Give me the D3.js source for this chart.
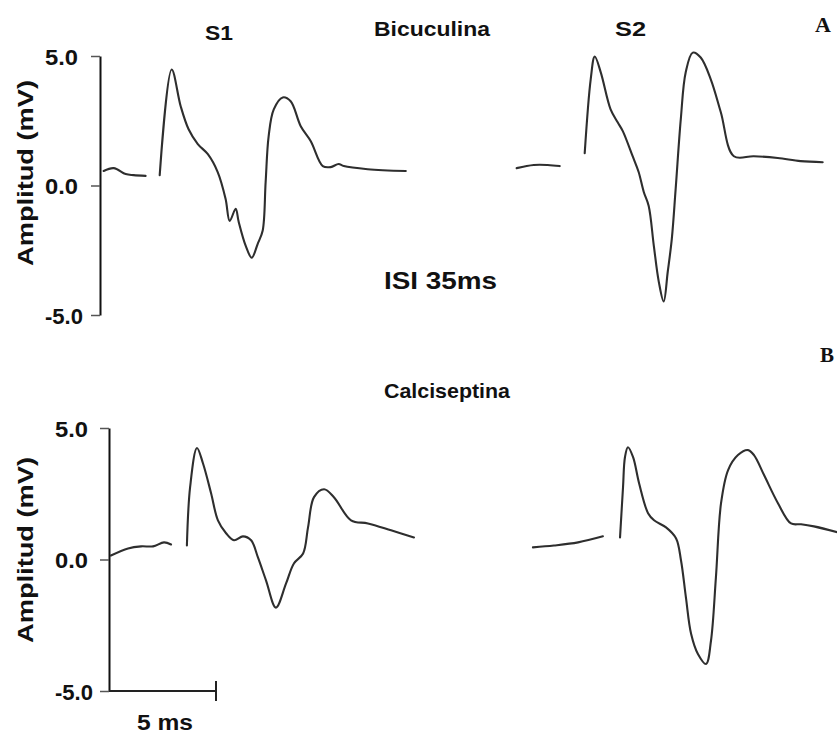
<!DOCTYPE html>
<html>
<head>
<meta charset="utf-8">
<script src="https://cdn.jsdelivr.net/npm/d3@7/dist/d3.min.js"></script>
<style>
  html, body { margin: 0; padding: 0; background: #ffffff; }
  svg { display: block; }
  text { font-family: "Liberation Sans", Arial, sans-serif; font-weight: bold; fill: #111; }
  .serif { font-family: "Liberation Serif", "Times New Roman", serif; }
</style>
</head>
<body>
<script>
// ---- data (time in ms from the axis, amplitude in mV) ----
const yTicks = [-5, 0, 5];
const scaleBarMs = 5;

// Panel A: Bicuculina
const bicS1Pre = [[0.17,0.56],[0.64,0.67],[1.20,0.44],[1.57,0.40],[2.13,0.37]];
const bicS1 = [[2.79,0.40],[3.35,4.48],[3.77,3.06],[4.14,2.17],[4.57,1.60],[5.04,1.21],[5.50,0.52],
  [5.87,-0.52],[6.06,-1.37],[6.34,-0.90],[6.48,-1.40],[6.81,-2.33],[7.09,-2.79],[7.37,-2.25],
  [7.60,-1.75],[7.74,0.13],[7.88,1.90],[8.12,2.94],[8.54,3.40],[8.91,3.25],[9.38,2.29],[9.85,1.71],
  [10.41,0.75],[10.78,0.71],[11.15,0.83],[11.39,0.75],[12.51,0.63],[14.29,0.56]];
const bicS2Pre = [[19.47,0.67],[20.27,0.79],[20.92,0.79],[21.48,0.75]];
const bicS2 = [[22.65,1.25],[22.93,4.10],[23.12,4.98],[23.40,4.37],[23.86,2.94],[24.19,2.44],[24.43,2.10],
  [24.89,1.13],[25.17,0.52],[25.41,-0.25],[25.64,-0.79],[25.88,-2.33],[26.11,-3.71],[26.34,-4.48],
  [26.53,-3.33],[26.72,-2.06],[26.90,-0.13],[27.14,2.56],[27.37,4.37],[27.70,5.13],[28.07,4.94],
  [28.54,4.10],[29.01,2.83],[29.62,1.13],[30.55,1.13],[31.67,1.06],[32.74,0.94],[33.77,0.90]];

// Panel B: Calciseptina
const calS1Pre = [[0.09,0.15],[0.89,0.42],[1.50,0.50],[2.06,0.50],[2.57,0.65],[2.90,0.57]];
const calS1 = [[3.64,0.53],[3.79,2.75],[4.11,4.24],[4.39,3.66],[4.77,2.52],[5.09,1.49],[5.47,1.00],
  [5.84,0.73],[6.26,0.88],[6.64,0.73],[6.96,0.08],[7.34,-0.80],[7.80,-1.83],[8.27,-0.92],[8.64,-0.15],
  [9.07,0.23],[9.30,1.22],[9.58,2.37],[10.05,2.67],[10.51,2.37],[11.31,1.49],[12.10,1.37],[13.18,1.11],[14.25,0.84]];
const calS2Pre = [[19.81,0.46],[20.79,0.53],[21.92,0.65],[23.08,0.88]];
const calS2 = [[23.88,0.84],[24.02,2.75],[24.11,3.89],[24.25,4.27],[24.49,3.89],[24.77,2.90],[25.19,1.76],
  [25.47,1.49],[26.03,1.22],[26.50,0.80],[26.73,-0.04],[26.96,-1.45],[27.20,-2.82],[27.52,-3.59],
  [27.90,-3.97],[28.13,-3.09],[28.36,-0.69],[28.60,2.14],[28.93,3.40],[29.39,3.97],[29.86,4.16],
  [30.14,3.97],[30.61,3.21],[31.26,2.14],[31.87,1.37],[32.34,1.34],[32.94,1.26],[34.07,1.03]];

// ---- drawing ----
const W = 837, H = 737;
const svg = d3.select("body").append("svg").attr("width", W).attr("height", H);

const panels = [
  { axisX: 100, yTop: 56, yBot: 315, labelLeft: 45, labelCY: 173, traces: [bicS1Pre, bicS1, bicS2Pre, bicS2], scaleBar: false },
  { axisX: 109, yTop: 428, yBot: 691, labelLeft: 55, labelCY: 550, traces: [calS1Pre, calS1, calS2Pre, calS2], scaleBar: true }
];

const pxPerMs = 21.4;

panels.forEach(p => {
  const x = d3.scaleLinear().domain([0, 35]).range([p.axisX, p.axisX + 35 * pxPerMs]);
  const y = d3.scaleLinear().domain([-5, 5]).range([p.yBot, p.yTop]);

  const ax = svg.append("g").attr("transform", `translate(${p.axisX},0)`)
    .call(d3.axisLeft(y).tickValues(yTicks).tickFormat(d => d.toFixed(1)).tickSize(9).tickSizeOuter(0));
  ax.select(".domain").attr("stroke", "#111").attr("stroke-width", 2);
  ax.selectAll(".tick line").attr("stroke", "#555").attr("stroke-width", 1.5);
  ax.selectAll(".tick text")
    .attr("x", p.labelLeft - p.axisX).attr("dy", "0.38em")
    .attr("text-anchor", "start")
    .attr("textLength", d => d < 0 ? 38 : 33).attr("lengthAdjust", "spacingAndGlyphs")
    .style("font-family", "Liberation Sans, Arial, sans-serif")
    .style("font-weight", "bold").style("font-size", "22px").attr("fill", "#111");

  svg.append("text")
    .attr("transform", `translate(33,${p.labelCY}) rotate(-90)`)
    .attr("text-anchor", "middle")
    .attr("textLength", 186).attr("lengthAdjust", "spacingAndGlyphs")
    .style("font-size", "22px")
    .text("Amplitud (mV)");

  const line = d3.line().x(d => x(d[0])).y(d => y(d[1])).curve(d3.curveCatmullRom.alpha(0.5));
  p.traces.forEach(tr => {
    svg.append("path").datum(tr).attr("d", line)
      .attr("fill", "none").attr("stroke", "#2e2e2e").attr("stroke-width", 2.1)
      .attr("stroke-linejoin", "round").attr("stroke-linecap", "round");
  });

  if (p.scaleBar) {
    const yb = y(-5);
    svg.append("line").attr("x1", x(0)).attr("x2", x(scaleBarMs)).attr("y1", yb).attr("y2", yb)
      .attr("stroke", "#222").attr("stroke-width", 1.8);
    svg.append("line").attr("x1", x(scaleBarMs)).attr("x2", x(scaleBarMs)).attr("y1", yb - 10).attr("y2", yb + 10)
      .attr("stroke", "#222").attr("stroke-width", 2);
    svg.append("text").attr("x", 137).attr("y", 730)
      .attr("textLength", 56).attr("lengthAdjust", "spacingAndGlyphs")
      .style("font-size", "22px").text(scaleBarMs + " ms");
  }
});

const labels = [
  { t: "S1", x: 205, y: 40, len: 28, fs: 21 },
  { t: "Bicuculina", x: 374, y: 36, len: 116, fs: 21 },
  { t: "S2", x: 615, y: 36, len: 31, fs: 21 },
  { t: "ISI 35ms", x: 384, y: 289, len: 113, fs: 24 },
  { t: "Calciseptina", x: 384, y: 398, len: 126, fs: 21 }
];
labels.forEach(l => {
  svg.append("text").attr("x", l.x).attr("y", l.y)
    .attr("textLength", l.len).attr("lengthAdjust", "spacingAndGlyphs")
    .style("font-size", l.fs + "px").text(l.t);
});
svg.append("text").attr("class", "serif").attr("x", 815).attr("y", 32).style("font-size", "22px").text("A");
svg.append("text").attr("class", "serif").attr("x", 820).attr("y", 362).style("font-size", "21px").text("B");
</script>
</body>
</html>
